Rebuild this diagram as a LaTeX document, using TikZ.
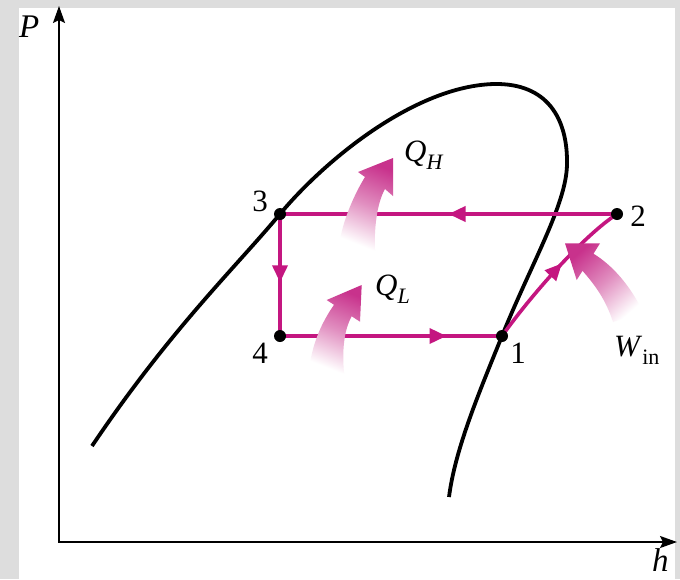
\documentclass[tikz,border=0pt]{standalone}
\usepackage{fontspec}
\setmainfont{Liberation Serif}
\usetikzlibrary{arrows.meta,decorations.markings}
\definecolor{mag}{RGB}{196,22,128}
\definecolor{fuzz}{RGB}{200,50,140}
\definecolor{bggray}{RGB}{221,221,221}
\newcommand{\lowsub}[1]{\raisebox{-0.28em}{\fontsize{22}{24}\selectfont #1}}
\begin{document}
\begin{tikzpicture}[x=1pt,y=-1pt,
  lbl/.style={font=\fontsize{31}{34}\selectfont, inner sep=0pt},
  lblq/.style={font=\fontsize{31}{34}\selectfont, inner sep=0pt, anchor=base west},
  lbli/.style={font=\itshape\fontsize{33}{36}\selectfont, inner sep=0pt, anchor=base west},
  dot/.style={circle,fill=black,inner sep=0pt,minimum size=12pt},
  axisline/.style={line width=2pt,{Stealth[length=17pt,width=12pt,inset=3pt]}-{Stealth[length=17pt,width=12pt,inset=3pt]}},
  dome/.style={line width=3.8pt},
  cyc/.style={mag,line width=3.6pt},
  midarrow/.style={postaction={decorate},decoration={markings,mark=at position #1 with {\arrow{Triangle[length=17pt,width=15pt]}}}},
  fuzzy/.style={top color=fuzz, bottom color=white, middle color=fuzz!55, draw=none, shading angle=#1}
]
\useasboundingbox (0,0) rectangle (680,579);
\fill[bggray] (0,0) rectangle (680,579);
\fill[white] (19,8) rectangle (675,579);

% axes
\coordinate (ptop) at (59,6);
\coordinate (hend) at (677,542);
\draw[axisline] (ptop) |- (hend);

% saturation dome
\draw[dome] (92,446) .. controls (170,330) and (235,268) .. (280,214)
  .. controls (325,160) and (415,86) .. (494,84)
  .. controls (547,83) and (568,118) .. (567,165)
  .. controls (566,205) and (532,262) .. (502,336)
  .. controls (478,395) and (455,450) .. (449,497);

% cycle states
\coordinate (c1) at (502,336);
\coordinate (c2) at (617,214);
\coordinate (c3) at (280,214);
\coordinate (c4) at (280,336);

\draw[cyc,midarrow=0.5] (c2) -- (c3);
\draw[cyc,midarrow=0.56] (c3) -- (c4);
\draw[cyc,midarrow=0.75] (c4) -- (c1);
\draw[cyc,midarrow=0.56] (c1) .. controls (535,290) and (585,235) .. (c2);

% heat / work arrows
\shade[fuzzy=-22] (339,250) .. controls (340,225) and (355,193) .. (365,177)
  -- (358,172) -- (393,158) -- (393,196) -- (385,189)
  .. controls (377,203) and (374,228) .. (375,250) -- cycle;
\shade[fuzzy=-22] (309,373) .. controls (311,345) and (322,322) .. (334,304.8)
  -- (326.7,300) -- (361.7,285) -- (360,321.7) -- (351.7,316.3)
  .. controls (344,330) and (342,350) .. (344,373) -- cycle;
\shade[fuzzy=41] (565,243.3) -- (576.7,280) -- (582.5,270.8)
  .. controls (595,285) and (606,300) .. (613,322) -- (643,312)
  .. controls (630,285) and (612,265) .. (593.5,253.7) -- (600,243.3) -- cycle;

% dots
\node[dot] (d1) at (c1) {};
\node[dot] (d2) at (c2) {};
\node[dot] (d3) at (c3) {};
\node[dot] (d4) at (c4) {};

% labels
\node[lbli] (lp) at (19,37) {P};
\node[lbli] (lh) at (652,571) {h};
\node[lbl] (l1) at (518,353) {1};
\node[lbl] (l2) at (638,216) {2};
\node[lbl] (l3) at (260,201) {3};
\node[lbl] (l4) at (260,353) {4};
\node[lblq] (lqh) at (404,161) {\textit{Q}\lowsub{\textit{H}}};
\node[lblq] (lql) at (375,295) {\textit{Q}\lowsub{\textit{L}}};
\node[lblq] (lw) at (614,356) {\textit{W}\lowsub{in}};
\end{tikzpicture}
\end{document}
